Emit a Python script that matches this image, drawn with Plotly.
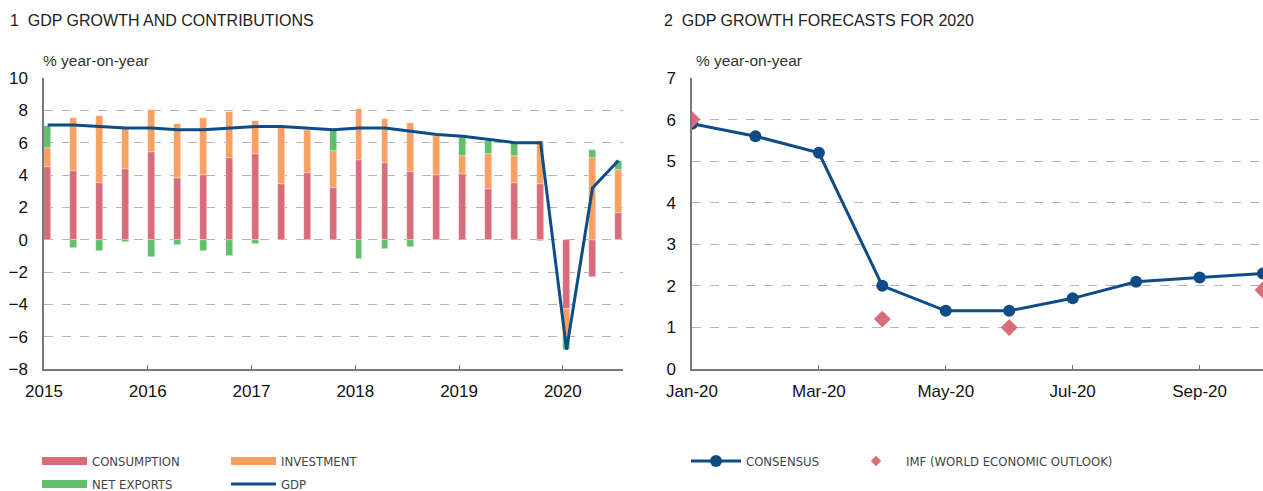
import plotly.graph_objects as go

# ---------------- data: chart 1 ----------------
quarters = ["2015Q1", "2015Q2", "2015Q3", "2015Q4",
            "2016Q1", "2016Q2", "2016Q3", "2016Q4",
            "2017Q1", "2017Q2", "2017Q3", "2017Q4",
            "2018Q1", "2018Q2", "2018Q3", "2018Q4",
            "2019Q1", "2019Q2", "2019Q3", "2019Q4",
            "2020Q1", "2020Q2", "2020Q3"]
consumption = [4.47, 4.27, 3.53, 4.35, 5.44, 3.84, 4.00, 5.03, 5.33, 3.47, 4.14, 3.22,
               4.92, 4.76, 4.20, 3.98, 4.04, 3.16, 3.53, 3.45, -4.31, -2.32, 1.68]
investment = [1.17, 3.24, 4.10, 2.48, 2.56, 3.30, 3.51, 2.87, 1.99, 3.50, 2.67, 2.28,
              3.14, 2.73, 3.00, 2.46, 1.15, 2.17, 1.64, 2.68, -1.64, 5.03, 2.63]
net_exports = [1.38, -0.51, -0.72, -0.16, -1.09, -0.33, -0.72, -0.98, -0.29, 0.0, 0.0, 1.23,
               -1.17, -0.57, -0.47, 0.0, 1.13, 0.78, 0.84, -0.10, -0.85, 0.51, 0.57]
gdp = [7.1, 7.1, 7.0, 6.9, 6.9, 6.8, 6.8, 6.9, 7.0, 7.0, 6.9, 6.8,
       6.9, 6.9, 6.7, 6.5, 6.4, 6.2, 6.0, 6.0, -6.8, 3.2, 4.9]
year_ticks = [2015, 2016, 2017, 2018, 2019, 2020]

# ---------------- data: chart 2 ----------------
months = ["Jan-20", "Feb-20", "Mar-20", "Apr-20", "May-20",
          "Jun-20", "Jul-20", "Aug-20", "Sep-20", "Oct-20"]
consensus = [5.9, 5.6, 5.2, 2.0, 1.4, 1.4, 1.7, 2.1, 2.2, 2.3]
imf_months = ["Jan-20", "Apr-20", "Jun-20", "Oct-20"]
imf = [6.0, 1.2, 1.0, 1.9]
month_ticks = ["Jan-20", "Mar-20", "May-20", "Jul-20", "Sep-20"]

# colours
C_CONS = "#d96b7b"
C_INV = "#f7a061"
C_NX = "#5fbf6a"
C_GDP = "#0e4c88"
C_IMF = "#d96b7b"

# quarter positions (year fraction, bar sits just right of quarter start)
def qpos(q):
    return int(q[:4]) + (int(q[-1]) - 1) / 4 + 0.036

xq = [qpos(q) for q in quarters]

FONT = "Liberation Sans, Arial, sans-serif"
NARROW = "DejaVu Sans Condensed, Liberation Sans Narrow, Liberation Sans, sans-serif"

fig = go.Figure()
bw = 0.066
bar_line = dict(color="rgba(255,255,255,0.6)", width=0.6)
fig.add_trace(go.Bar(x=xq, y=consumption, name="CONSUMPTION", marker=dict(color=C_CONS, line=bar_line),
                     width=bw, showlegend=False, xaxis="x", yaxis="y"))
fig.add_trace(go.Bar(x=xq, y=investment, name="INVESTMENT", marker=dict(color=C_INV, line=bar_line),
                     width=bw, showlegend=False, xaxis="x", yaxis="y"))
fig.add_trace(go.Bar(x=xq, y=net_exports, name="NET EXPORTS", marker=dict(color=C_NX, line=bar_line),
                     width=bw, showlegend=False, xaxis="x", yaxis="y"))
fig.add_trace(go.Scatter(x=xq, y=gdp, name="GDP", mode="lines", line=dict(color=C_GDP, width=3),
                         showlegend=False, xaxis="x", yaxis="y"))

# legend swatches (wide colour bars like the reference key)
for nm, col, lg, wd in [("CONSUMPTION", C_CONS, "legend", 8), ("INVESTMENT", C_INV, "legend", 8),
                        ("NET EXPORTS", C_NX, "legend2", 8), ("GDP", C_GDP, "legend2", 3)]:
    fig.add_trace(go.Scatter(x=[None], y=[None], name=nm, mode="lines",
                             line=dict(color=col, width=wd), legend=lg, xaxis="x", yaxis="y"))

fig.add_trace(go.Scatter(x=months, y=consensus, name="CONSENSUS", mode="lines+markers",
                         line=dict(color=C_GDP, width=3), marker=dict(color=C_GDP, size=12),
                         legend="legend3", xaxis="x2", yaxis="y2"))
fig.add_trace(go.Scatter(x=imf_months, y=imf, name="IMF (WORLD ECONOMIC OUTLOOK)", mode="markers",
                         marker=dict(color=C_IMF, size=13, symbol="diamond"),
                         showlegend=False, xaxis="x2", yaxis="y2"))
fig.add_trace(go.Scatter(x=[None], y=[None], name="IMF (WORLD ECONOMIC OUTLOOK)", mode="markers",
                         marker=dict(color=C_IMF, size=8, symbol="diamond"),
                         legend="legend4", xaxis="x2", yaxis="y2"))

W, H = 1263, 491
L1, R1 = 44, 623
L2, R2 = 692, 1263
TOP, BOT = 78, 369
PH = BOT - TOP

axis_common = dict(showline=True, linecolor="#7a7a7a", linewidth=1.5, zeroline=False,
                   tickfont=dict(family=FONT, size=17, color="#111"))
grid = dict(showgrid=True, gridcolor="#b5b5b5", griddash="dash", gridwidth=1)

def leg(x, y, ew, iw):
    return dict(orientation="h", font=dict(family=NARROW, size=13, color="#444"),
                bgcolor="rgba(0,0,0,0)", itemwidth=iw, xanchor="left", yanchor="middle",
                entrywidth=ew, itemclick=False, x=x / W, y=-(y - BOT) / PH)

def ypap(py):
    return 1 + (TOP - py) / PH

fig.update_layout(
    width=W, height=H, margin=dict(l=0, r=0, t=TOP, b=H - BOT, autoexpand=False),
    paper_bgcolor="white", plot_bgcolor="white",
    barmode="relative", bargap=0, showlegend=True,
    font=dict(family=FONT, color="#222"),
    xaxis=dict(domain=[L1 / W, R1 / W], range=[2015, 2020.58], tickmode="array",
               tickvals=year_ticks, ticktext=[str(y) for y in year_ticks],
               ticks="inside", ticklen=4, tickcolor="#7a7a7a", showgrid=False,
               ticklabelstandoff=6, anchor="y", **axis_common),
    yaxis=dict(range=[-8, 10], dtick=2, ticks="", ticklabelstandoff=11, anchor="x",
               **grid, **axis_common),
    xaxis2=dict(domain=[L2 / W, R2 / W], type="category", categoryorder="array",
                categoryarray=months, range=[0, 9], tickmode="array", tickvals=month_ticks,
                ticks="inside", ticklen=4, tickcolor="#7a7a7a", showgrid=False,
                ticklabelstandoff=6, anchor="y2", **axis_common),
    yaxis2=dict(range=[0, 7], dtick=1, ticks="", ticklabelstandoff=11, anchor="x2",
                **grid, **axis_common),
    legend=leg(37, 461, 129, 45),
    legend2=leg(37, 484, 129, 45),
    legend3=leg(686, 461, 120, 50),
    legend4=leg(846, 461, 300, 50),
    annotations=[
        dict(text="1  GDP GROWTH AND CONTRIBUTIONS", x=8 / W, y=ypap(20),
             xref="paper", yref="paper", xanchor="left", yanchor="middle", showarrow=False,
             font=dict(family=FONT, size=16, color="#222")),
        dict(text="2  GDP GROWTH FORECASTS FOR 2020", x=662 / W, y=ypap(20),
             xref="paper", yref="paper", xanchor="left", yanchor="middle", showarrow=False,
             font=dict(family=FONT, size=16, color="#222")),
        dict(text="% year-on-year", x=41 / W, y=ypap(60),
             xref="paper", yref="paper", xanchor="left", yanchor="middle", showarrow=False,
             font=dict(family=FONT, size=15.5, color="#333")),
        dict(text="% year-on-year", x=694 / W, y=ypap(60),
             xref="paper", yref="paper", xanchor="left", yanchor="middle", showarrow=False,
             font=dict(family=FONT, size=15.5, color="#333")),
    ],
)

fig.write_html("out.html", config={"displayModeBar": False},
               post_script="document.body.style.margin='0';")
